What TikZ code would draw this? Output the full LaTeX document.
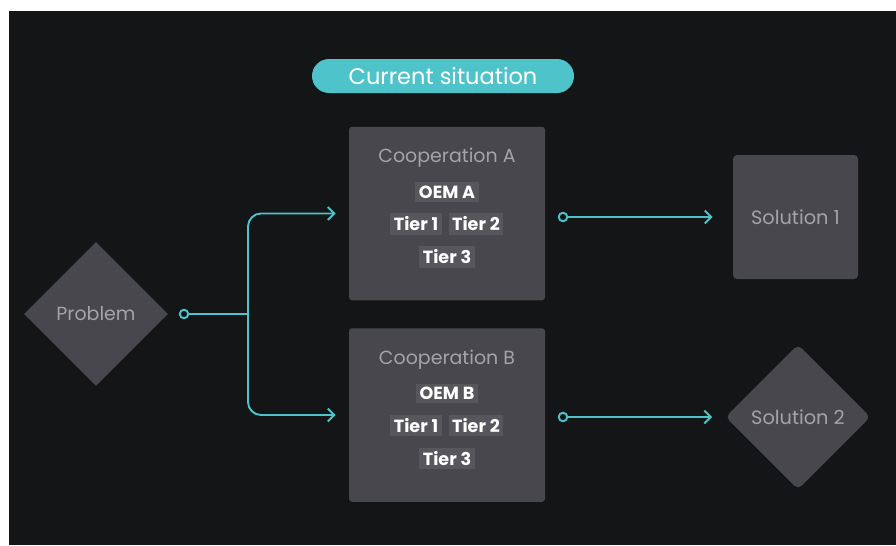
\documentclass[tikz,border=0pt]{standalone}
\usepackage{fontspec}
\setmainfont{Poppins}
\usetikzlibrary{arrows.meta,calc,positioning,shapes.geometric}
\definecolor{night}{HTML}{141517}
\definecolor{slate}{HTML}{48474D}
\definecolor{chip}{HTML}{57565C}
\definecolor{mist}{HTML}{A4A3A9}
\definecolor{lagoon}{HTML}{4EC4CA}
\tikzset{
  every node/.style={font=\fontsize{10.8}{12}\selectfont,text=mist,inner sep=0pt},
  pill/.style={rounded corners=.34cm,fill=lagoon,minimum width=5.24cm,minimum height=.68cm,text=white,font=\fontsize{12.8}{14}\selectfont},
  coop/.style={fill=slate,minimum width=3.92cm,minimum height=3.47cm,rounded corners=.6mm},
  member/.style={fill=chip,text=white,font=\bfseries\fontsize{10}{11}\selectfont,inner xsep=.07cm,inner ysep=.07cm},
  goal/.style={fill=slate,font=\fontsize{11}{12}\selectfont},
  wire/.style={draw=lagoon,line width=1.1pt},
  flow/.style={wire,-{Straight Barb[length=1.3mm,width=2.6mm]}},
  dot/.style={circle,draw=lagoon,fill=night,line width=1.1pt,minimum size=.17cm},
}

\begin{document}
\begin{tikzpicture}[x=1cm,y=1cm]
\path[use as bounding box] (0,0) rectangle (17.92,10.9);
\fill[white] (0,0) rectangle (17.92,10.9);
\fill[night] (.18,0) rectangle (17.92,10.68);
\node[pill] (current) at (8.86,9.38) {Current situation};
% Problem on the left, split into two cooperations
\node[diamond,aspect=1,fill=slate,minimum width=2.88cm,minimum height=2.88cm] (problem) at (1.92,4.62) {Problem};
\node[dot] (pdot) at (3.68,4.62) {};
\coordinate (split) at (4.96,4.62);
% Both cooperations share the same make-up
\foreach \c/\y in {A/6.63,B/2.60}{
  \node[coop] (coop\c) at (8.94,\y) {};
  \node (head\c) at (8.94,\y+1.11) {Cooperation \c};
  \node[member] (oem\c) at (8.94,\y+.43) {OEM \c};
  \node[member] (tierone\c) at (8.32,\y-.21) {Tier 1};
  \node[member] (tiertwo\c) at (9.52,\y-.21) {Tier 2};
  \node[member] (tierthree\c) at (8.94,\y-.87) {Tier 3};
}
\draw[wire] (pdot) -- (split);
\draw[flow,rounded corners=.26cm] (split) |- ([xshift=-.26cm]coopA.west);
\draw[flow,rounded corners=.26cm] (split) |- ([xshift=-.26cm]coopB.west);
% Outcomes
\node[goal,minimum width=2.5cm,minimum height=2.48cm,rounded corners=.8mm] (solone) at (15.91,6.56) {Solution 1};
\node[goal,diamond,aspect=1,minimum width=2.9cm,minimum height=2.9cm,rounded corners=1mm] (soltwo) at (15.96,2.56) {Solution 2};
\node[dot] (adot) at (11.26,6.56) {};
\node[dot] (bdot) at (11.26,2.56) {};
\draw[flow,shorten >=.4cm] (adot) -- (solone.west);
\draw[flow,shorten >=.26cm] (bdot) -- (soltwo.west);
\end{tikzpicture}
\end{document}
